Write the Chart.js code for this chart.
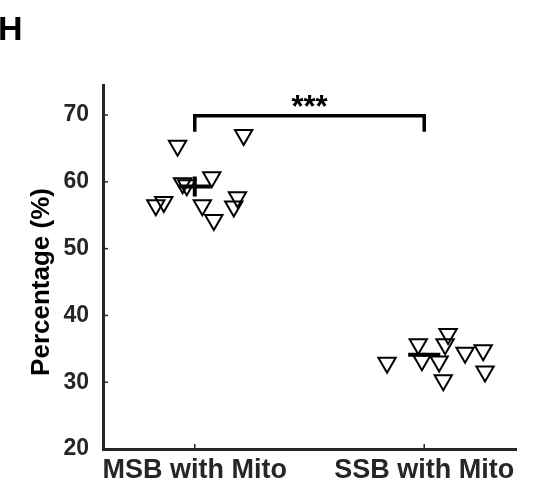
<!DOCTYPE html>
<html>
<head>
<meta charset="utf-8">
<script src="https://cdn.jsdelivr.net/npm/chart.js@4.4.1/dist/chart.umd.min.js"></script>
<style>
  html, body { margin: 0; padding: 0; background: #fff; }
  #wrap { width: 534px; height: 495px; position: relative; }
</style>
</head>
<body>
<div id="wrap"><canvas id="myChart"></canvas></div>
<script>
// categories and tick labels
const categories = ['MSB with Mito', 'SSB with Mito'];
const yTicks = [20, 30, 40, 50, 60, 70];
const yTitle = 'Percentage (%)';
const panelLetter = 'H';

// individual samples (x = jittered category position, y = percentage)
const msbX = [0.925, 1.213, 0.947, 0.965, 1.074, 0.83, 0.865, 1.033, 1.083, 1.186, 1.17];
const msbY = [65.4, 67.0, 59.8, 59.5, 60.7, 56.5, 57.0, 56.5, 54.3, 57.7, 56.3];
const ssbX = [1.838, 1.974, 1.99, 2.104, 2.091, 2.065, 2.083, 2.178, 2.257, 2.265];
const ssbY = [32.9, 35.7, 33.3, 37.2, 35.7, 33.1, 30.3, 34.4, 34.8, 31.6];

// group mean and sem
const means = [59.3, 34.1];
const sems = [1.5, 0.3];

// significance bracket
const bracketTop = 69.9;
const bracketLeg = 67.5;
const sigLabel = '***';

const ink = '#262626';
const fontFam = '"Liberation Sans", Arial, Helvetica, sans-serif';

function pts(xs, ys) {
  let out = [];
  for (let i = 0; i < xs.length; i++) out.push({x: xs[i], y: ys[i]});
  return out;
}

let meanSets = [];
for (let i = 0; i < means.length; i++) {
  const cx = i + 1;
  meanSets.push({
    type: 'line', data: [{x: cx - 0.07, y: means[i]}, {x: cx + 0.07, y: means[i]}],
    borderColor: '#000', borderWidth: 4, pointRadius: 0, order: 0
  });
  meanSets.push({
    type: 'line', data: [{x: cx, y: means[i] - sems[i]}, {x: cx, y: means[i] + sems[i]}],
    borderColor: '#000', borderWidth: 4, pointRadius: 0, order: 0
  });
}

const bracket = {
  type: 'line',
  data: [{x: 1, y: bracketLeg}, {x: 1, y: bracketTop}, {x: 2, y: bracketTop}, {x: 2, y: bracketLeg}],
  borderColor: '#000', borderWidth: 3.5, pointRadius: 0, order: 0
};

const markerStyle = {
  pointStyle: 'triangle', rotation: 180, pointRadius: 10,
  backgroundColor: 'rgba(255,255,255,0)', borderColor: '#000', pointBorderWidth: 2,
  showLine: false, order: 1
};

const extras = {
  id: 'extras',
  afterDraw(chart) {
    const c = chart.ctx;
    const xs = chart.scales.x, ys = chart.scales.y;
    const area = chart.chartArea;
    c.save();
    // inward tick marks
    c.strokeStyle = ink;
    c.lineWidth = 1.5;
    yTicks.forEach(v => {
      const py = ys.getPixelForValue(v);
      c.beginPath(); c.moveTo(area.left, py); c.lineTo(area.left + 5, py); c.stroke();
    });
    [1, 2].forEach(v => {
      const px = xs.getPixelForValue(v);
      c.beginPath(); c.moveTo(px, area.bottom); c.lineTo(px, area.bottom - 5); c.stroke();
    });
    // significance stars
    c.fillStyle = '#000';
    c.font = 'bold 31px ' + fontFam;
    c.textAlign = 'center';
    c.textBaseline = 'alphabetic';
    c.fillText(sigLabel, xs.getPixelForValue(1.5), ys.getPixelForValue(bracketTop) + 1);
    // y axis title
    c.save();
    c.translate(42, 282);
    c.rotate(-Math.PI / 2);
    c.textBaseline = 'middle';
    c.font = 'bold 26px ' + fontFam;
    c.fillText(yTitle, 0, 0);
    c.restore();
    // panel letter
    c.font = 'bold 34px ' + fontFam;
    c.textAlign = 'left';
    c.fillText(panelLetter, -2, 40);
    c.restore();
  }
};

const ctx = document.getElementById('myChart');
new Chart(ctx, {
  type: 'scatter',
  data: {
    datasets: meanSets.concat([bracket,
      Object.assign({data: pts(msbX, msbY)}, markerStyle),
      Object.assign({data: pts(ssbX, ssbY)}, markerStyle)
    ])
  },
  options: {
    responsive: true,
    maintainAspectRatio: false,
    animation: false,
    events: [],
    layout: {padding: {left: 0, top: 85, right: 18, bottom: 0}},
    plugins: {legend: {display: false}, tooltip: {enabled: false}},
    scales: {
      x: {
        type: 'linear', min: 0.6, max: 2.4,
        afterBuildTicks: s => { s.ticks = [{value: 1}, {value: 2}]; },
        afterFit: s => { s.height = 46; },
        grid: {display: false, drawTicks: false},
        border: {display: true, color: ink, width: 3},
        ticks: {
          padding: 5, color: ink, maxRotation: 0, autoSkip: false,
          font: {family: fontFam, size: 27, weight: 'bold'},
          callback: v => categories[Math.round(v) - 1]
        }
      },
      y: {
        type: 'linear', min: 20, max: 74.5,
        afterBuildTicks: s => { s.ticks = yTicks.map(v => ({value: v})); },
        afterFit: s => { s.width = 103; },
        grid: {display: false, drawTicks: false},
        border: {display: true, color: ink, width: 3},
        ticks: {
          padding: 14, color: ink,
          font: {family: fontFam, size: 23, weight: 'bold'}
        }
      }
    }
  },
  plugins: [extras]
});
</script>
</body>
</html>
